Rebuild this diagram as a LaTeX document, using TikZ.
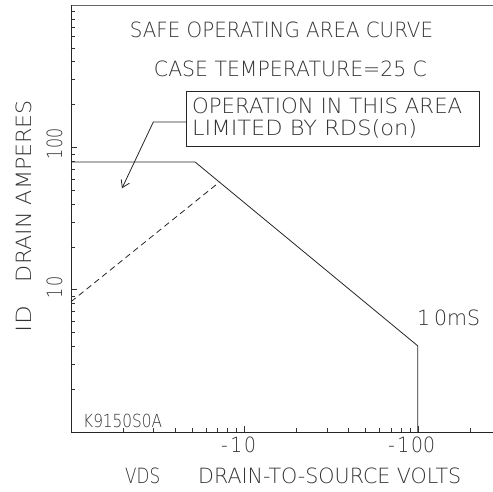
\documentclass[tikz,border=0pt]{standalone}
\usepackage{fontspec}
\usepackage{graphicx}
\usetikzlibrary{arrows.meta}
\IfFontExistsTF{DejaVu Sans ExtraLight}{\newfontfamily\pf{DejaVu Sans ExtraLight}}{\newfontfamily\pf{DejaVu Sans}}
\newcommand\fitw[2]{\resizebox{#1pt}{\height}{#2}}
\begin{document}
\begin{tikzpicture}[x=1pt,y=1pt,
  lbl/.style={inner sep=0pt, text=black!80, font=\pf\fontsize{21}{24}\selectfont},
  small/.style={lbl, font=\pf\fontsize{18}{20}\selectfont},
  plotline/.style={line width=0.8pt, draw=black!85},
  tickmark/.style={line width=0.6pt, draw=black!80}]
\useasboundingbox (0,0) rectangle (493,491);
% frame and axes
\coordinate (O) at (71,59);
\coordinate (TL) at (71,486);
\coordinate (TR) at (493,486);
\coordinate (BR) at (493,59);
\draw[plotline, draw=black!60] (TR) -- (TL);
\draw[plotline] (TL) -- (O) -- (BR);
% y ticks
\foreach \d in {0,1,2}{
  \foreach \k in {2,...,9}{
    \pgfmathsetmacro\yy{59+142.3*(\d+log10(\k))}
    \draw[tickmark] (71,\yy) -- ++(4,0);
  }
}
\draw[tickmark] (71,201.3) -- ++(6,0);
\draw[tickmark] (71,343.6) -- ++(6,0);
% x ticks
\foreach \d in {0,1}{
  \foreach \k in {2,...,9}{
    \pgfmathsetmacro\xx{71+173.4*(\d+log10(\k))}
    \draw[tickmark] (\xx,59) -- ++(0,4);
  }
}
\draw[tickmark] (470,59) -- ++(0,4);
\draw[tickmark] (244.4,59) -- ++(0,6);
\draw[tickmark] (417.8,59) -- ++(0,6);
% SOA curve
\coordinate (P1) at (71,328.9);
\coordinate (P2) at (195.2,328.9);
\coordinate (P3) at (417.8,145.1);
\coordinate (P4) at (417.8,59);
\draw[plotline] (P1) -- (P2) -- (P3) -- (P4);
% RDS(on) limit
\coordinate (D1) at (71,189.3);
\coordinate (D2) at (219.4,308.9);
\draw[plotline, dash pattern=on 6pt off 4pt] (D1) -- (D2);
% titles
\node[lbl, anchor=base] (title1) at (281.5,453) {\fitw{303}{SAFE OPERATING AREA CURVE}};
\node[lbl, anchor=base] (title2) at (290.5,414) {\fitw{273}{CASE TEMPERATURE=25 C}};
% annotation box
\node[draw, line width=0.8pt, draw=black!85, minimum width=293pt, minimum height=55pt, anchor=north west, inner sep=0pt] (box) at (186,400) {};
\node[lbl, anchor=base west] (ann1) at (192,377) {\fitw{270}{OPERATION IN THIS AREA}};
\node[lbl, anchor=base west] (ann2) at (192,355) {\fitw{225}{LIMITED BY RDS(on)}};
\coordinate (bend) at (153.3,369);
\coordinate (tip) at (122,302.7);
\draw[plotline, -{Straight Barb[length=7pt,width=9pt]}] (box.west |- bend) -- (bend) -- (tip);
% curve label
\node[lbl, anchor=base west] (ten) at (417,166) {\fitw{63}{1\hspace{4pt}0mS}};
\node[small, anchor=base west] (code) at (83,64) {\fitw{79}{K9150S0A}};
% axis numbers
\node[lbl, anchor=base] (xm10) at (238.5,39) {\fitw{35}{-\hspace{3pt}1\hspace{2pt}0}};
\node[lbl, anchor=base] (xm100) at (411.5,39) {\fitw{47}{-\hspace{3pt}1\hspace{2pt}00}};
\node[lbl, anchor=base, rotate=90] (y100) at (62,347) {\fitw{32}{1\hspace{2pt}00}};
\node[lbl, anchor=base, rotate=90] (y10) at (62,204) {\fitw{22}{1\hspace{2pt}0}};
% axis titles
\node[lbl, anchor=base west] (vds) at (125,8) {\fitw{35}{VDS}};
\node[lbl, anchor=base west] (xtitle) at (198,8) {\fitw{263}{DRAIN-TO-SOURCE VOLTS}};
\node[lbl, anchor=base, rotate=90] (id) at (31,172) {\fitw{26}{ID}};
\node[lbl, anchor=base, rotate=90] (ytitle) at (31,300) {\fitw{182}{DRAIN AMPERES}};
\end{tikzpicture}
\end{document}
